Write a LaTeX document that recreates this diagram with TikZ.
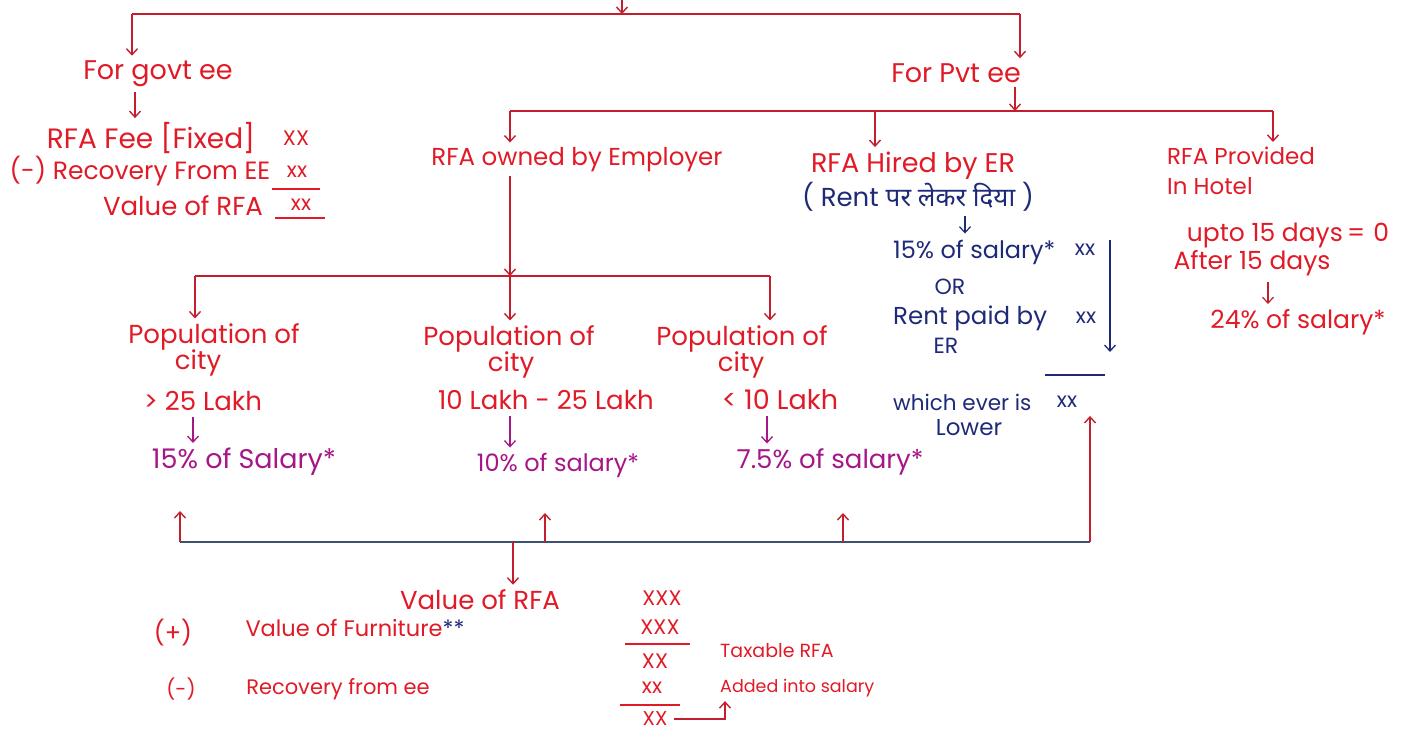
\documentclass[tikz,border=0pt]{standalone}
\usepackage{fontspec}
\setmainfont{Poppins}
\newfontfamily\hindi[Script=Devanagari]{Noto Sans}
\usetikzlibrary{arrows.meta}
\definecolor{ink}{RGB}{224,26,38}
\definecolor{wire}{RGB}{196,30,44}
\definecolor{navy}{RGB}{30,42,120}
\definecolor{plum}{RGB}{165,22,135}
\definecolor{slate}{RGB}{62,80,112}
\begin{document}
\begin{tikzpicture}[x=1pt,y=-1pt,
  fs/.style={font=\fontsize{#1}{#1}\selectfont},
  txt/.style={inner sep=0pt, text=ink, fs=26},
  btxt/.style={txt, text=navy, fs=24},
  ptxt/.style={txt, text=plum, fs=26},
  amt/.style={txt, fs=21},
  tip/.style={-{Straight Barb[length=6pt,width=11pt]}, line width=1.4pt, draw=wire},
  link/.style={line width=1.6pt, draw=wire},
  rule/.style={line width=1.3pt},
]
\useasboundingbox (0,0) rectangle (1413,735);

% ---------- first split: government / private employee ----------
\coordinate (root) at (622,-4);
\coordinate (j0) at (622,14);
\coordinate (j0l) at (132,14);
\coordinate (j0r) at (1020,14);
\node[txt, fs=27] (govt) at (158,74) {For govt ee};
\node[txt, fs=27] (pvt) at (956,73) {For Pvt ee};
\draw[tip] (root) -- (j0);
\draw[link] (j0l) -- (j0r);
\draw[tip, shorten >=5pt] (j0l) -- (j0l |- govt.north);
\draw[tip, shorten >=5pt] (j0r) -- (j0r |- pvt.north);

% ---------- government employee ----------
\node[txt, fs=28] (fee) at (151,138) {RFA Fee [Fixed]};
\node[amt] (feeamt) at (296,138) {XX};
\node[txt, fs=25] (rec) at (140,171) {(-) Recovery From EE};
\node[amt] (recamt) at (297,172) {xx};
\node[txt, fs=26] (val) at (183,206) {Value of RFA};
\node[amt] (valamt) at (301,205) {xx};
\coordinate (gj) at (135,0);
\draw[tip, shorten <=5pt, shorten >=4pt] (gj |- govt.south) -- (gj |- fee.north);
\draw[rule, draw=ink] (272,189) -- (320,189);
\draw[rule, draw=ink] (275,218) -- (325,218);

% ---------- private employee ----------
\coordinate (j1) at (1015,111);
\coordinate (j1a) at (510,111);
\coordinate (j1b) at (875,111);
\coordinate (j1c) at (1273,111);
\draw[tip, shorten <=4pt] (pvt.south -| j1) -- (j1);
\draw[link] (j1a) -- (j1c);

\node[txt, fs=24.5] (own) at (577,160) {RFA owned by Employer};
\node[txt, fs=27] (hire) at (913,166) {RFA Hired by ER};
\node[btxt, fs=26] (hirenote) at (918,197) {( Rent {\hindi पर लेकर दिया} )};
\node[txt, align=left, anchor=west, font=\fontsize{23}{30}\selectfont] (hotel) at (1167,171) {RFA Provided\\In Hotel};
\draw[tip, shorten >=5pt] (j1a) -- (j1a |- own.north);
\draw[tip, shorten >=5pt] (j1b) -- (j1b |- hire.north);
\draw[tip, shorten >=5pt] (j1c) -- (j1c |- hotel.north);

% ---------- hotel ----------
\node[txt, fs=25] (upto) at (1288,236) {upto 15 days\,=\,\,0};
\node[txt, fs=25] (after) at (1252,263) {After 15 days};
\node[txt, fs=25] (hotelpct) at (1298,322) {24\% of salary*};
\coordinate (hj) at (1268,0);
\draw[tip, line width=1.2pt, shorten <=6pt, shorten >=5pt] (hj |- after.south) -- (hj |- hotelpct.north);

% ---------- hired by employer ----------
\node[btxt, anchor=west] (h15) at (893,252) {15\% of salary*};
\node[btxt, fs=21] (h15amt) at (1085,250) {xx};
\node[btxt, fs=22] (hor) at (950,287) {OR};
\node[btxt, anchor=west, fs=24.5] (hrent) at (893,318) {Rent paid by};
\node[btxt, fs=21] (hrentamt) at (1086,318) {xx};
\node[btxt, fs=22] (her) at (946,346) {ER};
\node[btxt, anchor=west, fs=21.5] (hlow) at (893,402) {which ever is};
\node[btxt, fs=21] (hlowamt) at (1067,402) {xx};
\node[btxt, fs=23] (hlower) at (969,428) {Lower};
\coordinate (hn) at (965,0);
\draw[tip, draw=navy, line width=1.2pt, shorten <=4pt, shorten >=6pt] (hn |- hirenote.south) -- (hn |- h15.north);
\coordinate (hs) at (1110,240);
\coordinate (he) at (1110,352);
\draw[tip, draw=navy, line width=1.3pt] (hs) -- (he);
\draw[rule, draw=navy] (1045,375) -- (1105,375);

% ---------- owned by employer ----------
\coordinate (j2) at (510,276);
\coordinate (j2a) at (195,276);
\coordinate (j2c) at (770,276);
\draw[tip, shorten <=4pt] (own.south -| j2) -- (j2);
\draw[link] (j2a) -- (j2c);

\node[txt] (pop1) at (214,337) {Population of};
\node[txt] (pop1b) at (198,363) {city};
\node[txt] (pop1c) at (203,401) {> 25 Lakh};
\node[txt] (pop2) at (509,339) {Population of};
\node[txt] (pop2b) at (511,365) {city};
\node[txt] (pop2c) at (546,400) {10 Lakh - 25 Lakh};
\node[txt] (pop3) at (742,339) {Population of};
\node[txt] (pop3b) at (741,365) {city};
\node[txt, fs=27] (pop3c) at (780,400) {< 10 Lakh};
\draw[tip, shorten >=5pt] (j2a) -- (j2a |- pop1.north);
\draw[tip, shorten >=5pt] (j2) -- (j2 |- pop2.north);
\draw[tip, shorten >=5pt] (j2c) -- (j2c |- pop3.north);

\node[ptxt, fs=27] (s1) at (244,462) {15\% of Salary*};
\node[ptxt, fs=24] (s2) at (558,465) {10\% of salary*};
\node[ptxt] (s3) at (830,462) {7.5\% of salary*};
\draw[tip, draw=plum, line width=1.3pt, shorten <=6pt, shorten >=5pt] (193,0 |- pop1c.south) -- (193,0 |- s1.north);
\draw[tip, draw=plum, line width=1.3pt, shorten <=6pt, shorten >=5pt] (510,0 |- pop2c.south) -- (510,0 |- s2.north);
\draw[tip, draw=plum, line width=1.3pt, shorten <=6pt, shorten >=5pt] (767,0 |- pop3c.south) -- (767,0 |- s3.north);

% ---------- feedback bus into the final computation ----------
\coordinate (k1) at (180,542);
\coordinate (k2) at (545,542);
\coordinate (k3) at (843,542);
\coordinate (k4) at (1090,542);
\coordinate (kd) at (513,542);
\draw[line width=2.2pt, draw=slate] (k1) -- (k4);
\draw[tip] (k1) -- (180,511);
\draw[tip] (k2) -- (545,513);
\draw[tip] (k3) -- (843,513);
\draw[tip, shorten >=8pt] (k4) -- (k4 |- hlowamt.south);

% ---------- final computation ----------
\node[txt] (vrfa) at (480,600) {Value of RFA};
\node[amt] (vrfaamt) at (662,598) {XXX};
\node[txt, fs=24] (plus) at (173,633) {(+)};
\node[txt, fs=22.5] (furn) at (355,628) {Value of Furniture\textcolor{navy}{**}};
\node[amt] (furnamt) at (660,627) {XXX};
\node[amt] (sub1) at (655,661) {XX};
\node[txt, fs=20] (minus) at (181,689) {(-)};
\node[txt, fs=21] (recee) at (338,689) {Recovery from ee};
\node[amt] (receeamt) at (652,688) {xx};
\node[amt, fs=20] (net) at (655,719) {XX};
\node[txt, anchor=west, fs=19] (taxable) at (720,651) {Taxable RFA};
\node[txt, anchor=west, fs=17.5] (added) at (720,688) {Added into salary};
\draw[tip, shorten >=5pt] (kd) -- (kd |- vrfa.north);
\draw[rule, draw=ink] (625,644) -- (690,644);
\draw[rule, draw=ink] (620,705) -- (680,705);
\coordinate (tk) at (725,719);
\draw[tip, shorten <=6pt, shorten >=4pt] (net.east) -- (tk) -- (tk |- added.south);
\end{tikzpicture}
\end{document}
